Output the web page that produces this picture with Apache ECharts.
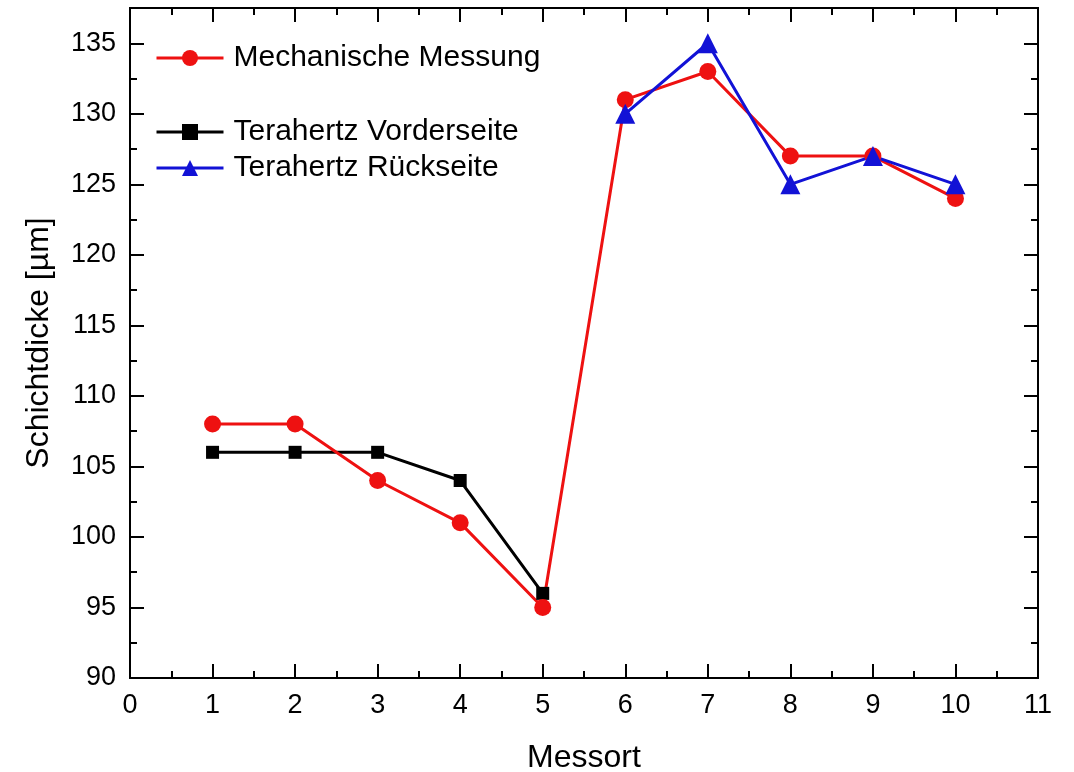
<!DOCTYPE html>
<html>
<head>
<meta charset="utf-8">
<script src="https://cdn.jsdelivr.net/npm/echarts@6/dist/echarts.min.js"></script>
<style>html,body{margin:0;padding:0;background:#fff}#c{width:1074px;height:772px}</style>
</head>
<body>
<div id="c"></div>
<script>
// Data
const mechX = [1, 2, 3, 4, 5, 6, 7, 8, 9, 10];
const mechY = [108, 108, 104, 101, 95, 131, 133, 127, 127, 124];
const frontX = [1, 2, 3, 4, 5];
const frontY = [106, 106, 106, 104, 96];
const backX = [6, 7, 8, 9, 10];
const backY = [130, 135, 125, 127, 125];
const seriesNames = ['Mechanische Messung', 'Terahertz Vorderseite', 'Terahertz Rückseite'];
const xTitle = 'Messort';
const yTitle = 'Schichtdicke [µm]';

const pairs = (xs, ys) => xs.map((x, i) => [x, ys[i]]);
const FONT = 'Liberation Sans, Arial, sans-serif';
const RED = '#ee1111', BLUE = '#1212d6', BLACK = '#000';

const chart = echarts.init(document.getElementById('c'));
const lineAx = { show: true, onZero: false, lineStyle: { color: '#000', width: 2 } };
const yBase = { type: 'value', min: 90, max: 137.5, splitLine: { show: false } };
const xBase = { type: 'value', min: 0, max: 11, interval: 1, splitLine: { show: false } };
const legText = { fontFamily: FONT, fontSize: 30, color: '#000', padding: [0, 0, 0, 5] };

chart.setOption({
  animation: false,
  backgroundColor: '#fff',
  grid: { left: 130, right: 36, top: 8, bottom: 94, containLabel: false, outerBoundsMode: 'none' },
  legend: [
    {
      data: [seriesNames[0]], left: 155, top: 43, orient: 'vertical', padding: 0,
      itemWidth: 67, itemHeight: 20, lineStyle: { width: 3 },
      textStyle: legText
    },
    {
      data: [seriesNames[1], seriesNames[2]], left: 155, top: 117, orient: 'vertical', padding: 0,
      itemWidth: 67, itemHeight: 20, itemGap: 6, lineStyle: { width: 3 },
      textStyle: legText
    }
  ],
  xAxis: [
    Object.assign({}, xBase, {
      position: 'bottom',
      name: xTitle, nameLocation: 'middle', nameGap: 64,
      nameTextStyle: { fontFamily: FONT, fontSize: 32, color: '#000' },
      axisLine: lineAx,
      axisTick: { show: true, inside: true, length: 14, lineStyle: { width: 2, color: '#000' } },
      minorTick: { show: true, splitNumber: 2, length: 7, lineStyle: { width: 2, color: '#000' } },
      axisLabel: { fontFamily: FONT, fontSize: 27, color: '#000', margin: 14 }
    }),
    Object.assign({}, xBase, {
      position: 'top',
      axisLine: lineAx,
      axisTick: { show: true, inside: true, length: 14, lineStyle: { width: 2, color: '#000' } },
      minorTick: { show: true, splitNumber: 2, length: 7, lineStyle: { width: 2, color: '#000' } },
      axisLabel: { show: false }
    })
  ],
  yAxis: [
    Object.assign({}, yBase, {
      position: 'left', interval: 2.5,
      name: yTitle, nameLocation: 'middle', nameGap: 75, nameRotate: 90,
      nameTextStyle: { fontFamily: FONT, fontSize: 32, color: '#000' },
      axisLine: lineAx,
      axisTick: { show: true, inside: true, length: 7, lineStyle: { width: 2, color: '#000' } },
      axisLabel: {
        fontFamily: FONT, fontSize: 27, color: '#000', margin: 14,
        formatter: v => (v % 5 === 0 ? String(v) : '')
      }
    }),
    Object.assign({}, yBase, {
      position: 'left', interval: 5,
      axisLine: lineAx,
      axisTick: { show: true, inside: true, length: 14, lineStyle: { width: 2, color: '#000' } },
      axisLabel: { show: false }
    }),
    Object.assign({}, yBase, {
      position: 'right', interval: 2.5,
      axisLine: lineAx,
      axisTick: { show: true, inside: true, length: 7, lineStyle: { width: 2, color: '#000' } },
      axisLabel: { show: false }
    }),
    Object.assign({}, yBase, {
      position: 'right', interval: 5,
      axisLine: lineAx,
      axisTick: { show: true, inside: true, length: 14, lineStyle: { width: 2, color: '#000' } },
      axisLabel: { show: false }
    })
  ],
  series: [
    {
      name: seriesNames[1], type: 'line', data: pairs(frontX, frontY),
      symbol: 'rect', symbolSize: 13,
      lineStyle: { color: BLACK, width: 3 }, itemStyle: { color: BLACK }
    },
    {
      name: seriesNames[0], type: 'line', data: pairs(mechX, mechY),
      symbol: 'circle', symbolSize: 17,
      lineStyle: { color: RED, width: 3 }, itemStyle: { color: RED }
    },
    {
      name: seriesNames[2], type: 'line', data: pairs(backX, backY),
      symbol: 'triangle', symbolSize: 20,
      lineStyle: { color: BLUE, width: 3 }, itemStyle: { color: BLUE }
    }
  ]
});
</script>
</body>
</html>
